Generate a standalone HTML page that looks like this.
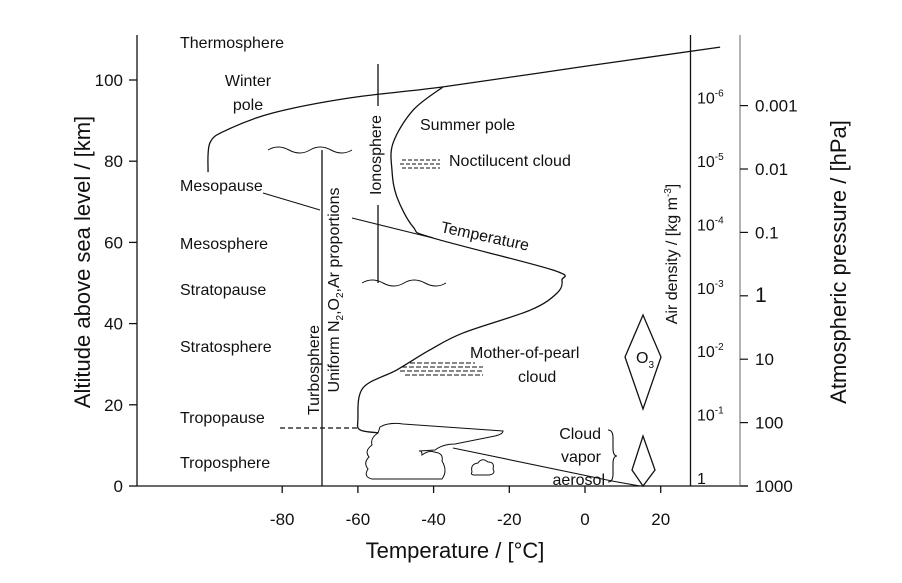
<!DOCTYPE html>
<html><head><meta charset="utf-8"><style>
body{margin:0;background:#fff}
svg{display:block;font-family:"Liberation Sans",sans-serif}
</style></head><body>
<svg id="c" width="902" height="583" viewBox="0 0 902 583">
<g id="static" fill="none" stroke="#111" stroke-width="1.3">
  <line x1="137" y1="35" x2="137" y2="486"/>
  <line x1="137" y1="486" x2="748" y2="486"/>
  <line x1="690.5" y1="35" x2="690.5" y2="486"/>
  <line x1="740" y1="35" x2="740" y2="486" stroke="#888"/>
  <line x1="322" y1="150" x2="322" y2="486"/>
  <path d="M268 150 q10 -6 21 0 t21 0 t21 0 t21 0" stroke-width="1"/>
  <line x1="378" y1="64" x2="378" y2="106"/>
  <line x1="378" y1="205" x2="378" y2="283"/>
  <path d="M362 283 q10 -6 21 0 t21 0 t21 0 t21 0" stroke-width="1"/>
  <line x1="280" y1="428" x2="360" y2="428" stroke-dasharray="5,3"/>
  <line x1="263" y1="193" x2="320" y2="210" stroke-width="1.1"/>
  <line x1="352" y1="218" x2="433" y2="238" stroke-width="1.1"/>
  <g stroke-dasharray="4,2" stroke-width="0.9">
    <line x1="402" y1="160" x2="440" y2="160"/><line x1="400" y1="164" x2="442" y2="164"/><line x1="402" y1="168" x2="440" y2="168"/></g>
  <g stroke-dasharray="5,2" stroke-width="0.9">
    <line x1="410" y1="363" x2="475" y2="363"/><line x1="402" y1="367" x2="483" y2="367"/><line x1="400" y1="371" x2="483" y2="371"/><line x1="405" y1="375" x2="483" y2="375"/></g>
  <path d="M643 315 L661 357 L643 409 L625 357 Z"/>
  <path d="M643 436 L655 470 L643 486 L632 470 Z"/>
  <path d="M608 430 q5 0 5 8 v10 q0 8 4 8 q-4 0 -4 8 v10 q0 8 -5 8" stroke-width="1.1"/>
  <line x1="453" y1="448" x2="612" y2="481" stroke-width="1.1"/>
  <line x1="612" y1="481" x2="640" y2="486" stroke-width="1.1"/>
  <path d="M378 433 q-8 5 -6 12 q-8 6 -3 12 q-6 6 -1 12 q-5 8 4 10 h70 q6 -8 0 -18 q2 -8 -8 -9 q-5 -2 -12 3 q0 -5 -3 -4 l16 -1 q8 -6 20 -6 l40 -8 q8 -2 8 -5 l-100 -7 q-14 -2 -23 3 Z" stroke-width="1"/>
  <path d="M472 472 q-2 -8 6 -9 q4 -6 10 -1 q7 0 5 7 q3 5 -4 6 h-14 q-5 0 -3 -3 Z" stroke-width="1"/>
</g>
<g id="curves"></g>
<g id="ticks" font-size="17" fill="#111"></g>
<g font-size="16" fill="#111">
  <text x="180" y="48">Thermosphere</text>
  <text x="248" y="86" text-anchor="middle">Winter</text>
  <text x="248" y="110" text-anchor="middle">pole</text>
  <text x="180" y="191">Mesopause</text>
  <text x="180" y="249">Mesosphere</text>
  <text x="180" y="295">Stratopause</text>
  <text x="180" y="352">Stratosphere</text>
  <text x="180" y="423">Tropopause</text>
  <text x="180" y="468">Troposphere</text>
  <text x="420" y="130">Summer pole</text>
  <text x="449" y="166">Noctilucent cloud</text>
  <text x="440" y="232" transform="rotate(12 440 232)">Temperature</text>
  <text x="470" y="358">Mother-of-pearl</text>
  <text x="518" y="382">cloud</text>
  <text x="601" y="439" text-anchor="end">Cloud</text>
  <text x="601" y="462" text-anchor="end">vapor</text>
  <text x="605" y="485" text-anchor="end">aerosol</text>
  <text x="636" y="363">O<tspan font-size="10" dy="5">3</tspan></text>
  <text transform="translate(381 155) rotate(-90)" text-anchor="middle">Ionosphere</text>
  <text transform="translate(319 370) rotate(-90)" text-anchor="middle">Turbosphere</text>
  <text transform="translate(339 290) rotate(-90)" text-anchor="middle">Uniform N<tspan font-size="10" dy="4">2</tspan><tspan dy="-4">,O</tspan><tspan font-size="10" dy="4">2</tspan><tspan dy="-4">,Ar proportions</tspan></text>
  <text transform="translate(677 254) rotate(-90)" text-anchor="middle">Air density / [kg m<tspan font-size="10" dy="-6">-3</tspan><tspan dy="6">]</tspan></text>
  <text transform="translate(90 262) rotate(-90)" text-anchor="middle" font-size="22">Altitude above sea level / [km]</text>
  <text transform="translate(846 262) rotate(-90)" text-anchor="middle" font-size="22">Atmospheric pressure / [hPa]</text>
  <text x="455" y="558" text-anchor="middle" font-size="22">Temperature / [°C]</text>
</g>
</svg>
<script>
const xTicks=[-80,-60,-40,-20,0,20];
const yTicks=[0,20,40,60,80,100];
const pressureLabels=["1000","100","10","1","0.1","0.01","0.001"];
const densityExp=["1","-1","-2","-3","-4","-5","-6"];
const winterT=[35.7,-1.3,-37.5,-62.1,-82.4,-94.6,-99.1,-99.6];
const winterH=[108.1,103.2,98.3,95.6,91.9,87.7,84.5,77.3];
const summerT=[-37.5,-45.4,-50.7,-51,-49.7,-45.4,-40.2,-8.5,-6.1,-7.4,-14.5,-32.2,-41,-49.7,-58.7,-60,-59.4,-54.7];
const summerH=[98.3,92.6,84.5,77.8,71.2,63.8,61.1,53.2,50.7,47.5,43.3,37.7,33.5,28.6,24.1,16.3,13.8,13.1];
const X=t=>585+3.785*t, Y=h=>486-4.06*h;
const NS="http://www.w3.org/2000/svg";
function mk(tag,attrs,parent){const e=document.createElementNS(NS,tag);for(const k in attrs)e.setAttribute(k,attrs[k]);parent.appendChild(e);return e;}
function smooth(T,H){const p=T.map((t,i)=>[X(t),Y(H[i])]);let d="M"+p[0].join(" ");
for(let i=0;i<p.length-1;i++){const a=p[i-1]||p[i],b=p[i],c=p[i+1],e=p[i+2]||c;
d+=` C${b[0]+(c[0]-a[0])/6} ${b[1]+(c[1]-a[1])/6} ${c[0]-(e[0]-b[0])/6} ${c[1]-(e[1]-b[1])/6} ${c[0]} ${c[1]}`;}return d;}
const cg=document.getElementById('curves');
const w=mk('path',{d:smooth(winterT,winterH),fill:'none',stroke:'#111','stroke-width':1.3},cg);


const s=mk('path',{d:smooth(summerT,summerH),fill:'none',stroke:'#111','stroke-width':1.3},cg);


const tg=document.getElementById('ticks');
xTicks.forEach(t=>{const l=mk('line',{x1:X(t),x2:X(t),y1:486,y2:493,stroke:'#111','stroke-width':1.3},tg);


const tx=mk('text',{x:X(t),y:525,'text-anchor':'middle'},tg);tx.textContent=t;

});
yTicks.forEach(h=>{const l=mk('line',{x1:129,x2:137,y1:Y(h),y2:Y(h),stroke:'#111','stroke-width':1.3},tg);


const tx=mk('text',{x:123,y:Y(h)+6,'text-anchor':'end'},tg);tx.textContent=h;

});
pressureLabels.forEach((p,i)=>{const y=486-63.4*i;
const l=mk('line',{x1:740,x2:748,y1:y,y2:y,stroke:'#111','stroke-width':1.2},tg);


const tx=mk('text',{x:755,y:y+6,'font-size':p==="1"?21:17},tg);tx.textContent=p;


const dx=mk('text',{x:697,y:y-2,'font-size':16},tg);


if(densityExp[i]==="1"){dx.textContent="1";}else{dx.textContent="10";const sp=mk('tspan',{'font-size':10,dy:-7},dx);sp.textContent=densityExp[i];}});
</script>
</body></html>
